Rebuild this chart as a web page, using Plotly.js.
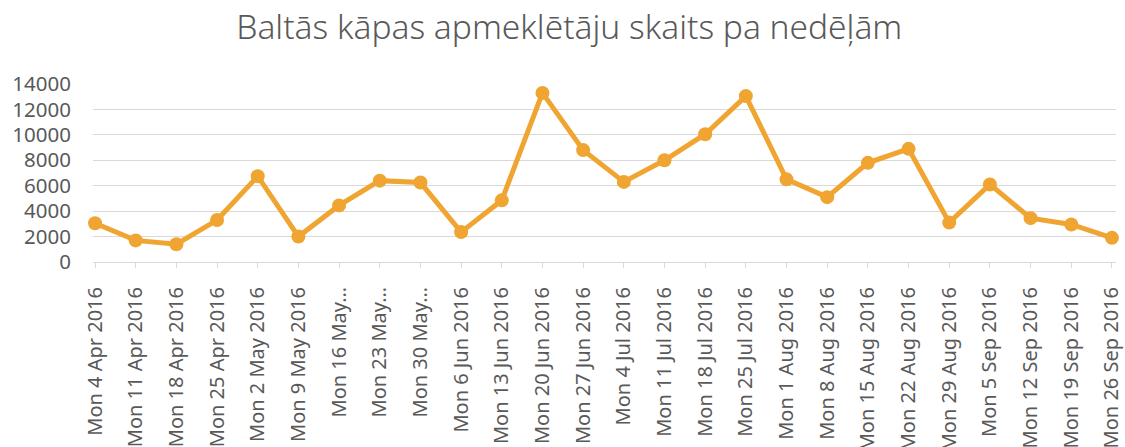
<!DOCTYPE html>
<html>
<head>
<meta charset="utf-8">
<script src="https://cdn.plot.ly/plotly-3.0.1.min.js"></script>
<style>
html,body{margin:0;padding:0;background:#fff;}
#chart{width:1125px;height:447px;}
</style>
</head>
<body>
<div id="chart"></div>
<script>
const categories = [
  "Mon 4 Apr 2016","Mon 11 Apr 2016","Mon 18 Apr 2016","Mon 25 Apr 2016",
  "Mon 2 May 2016","Mon 9 May 2016","Mon 16 May 2016","Mon 23 May 2016","Mon 30 May 2016",
  "Mon 6 Jun 2016","Mon 13 Jun 2016","Mon 20 Jun 2016","Mon 27 Jun 2016",
  "Mon 4 Jul 2016","Mon 11 Jul 2016","Mon 18 Jul 2016","Mon 25 Jul 2016",
  "Mon 1 Aug 2016","Mon 8 Aug 2016","Mon 15 Aug 2016","Mon 22 Aug 2016","Mon 29 Aug 2016",
  "Mon 5 Sep 2016","Mon 12 Sep 2016","Mon 19 Sep 2016","Mon 26 Sep 2016"
];
const tickLabels = [
  "Mon 4 Apr 2016","Mon 11 Apr 2016","Mon 18 Apr 2016","Mon 25 Apr 2016",
  "Mon 2 May 2016","Mon 9 May 2016","Mon 16 May…","Mon 23 May…","Mon 30 May…",
  "Mon 6 Jun 2016","Mon 13 Jun 2016","Mon 20 Jun 2016","Mon 27 Jun 2016",
  "Mon 4 Jul 2016","Mon 11 Jul 2016","Mon 18 Jul 2016","Mon 25 Jul 2016",
  "Mon 1 Aug 2016","Mon 8 Aug 2016","Mon 15 Aug 2016","Mon 22 Aug 2016","Mon 29 Aug 2016",
  "Mon 5 Sep 2016","Mon 12 Sep 2016","Mon 19 Sep 2016","Mon 26 Sep 2016"
];
const visitors = [
  3050, 1700, 1400, 3300,
  6750, 2000, 4450, 6400, 6250,
  2350, 4850, 13300, 8800,
  6300, 8000, 10050, 13050,
  6500, 5100, 7800, 8900, 3100,
  6100, 3450, 2950, 1900
];
const yTicks = [0, 2000, 4000, 6000, 8000, 10000, 12000, 14000];
const chartTitle = "Baltās kāpas apmeklētāju skaits pa nedēļām";

const idx = categories.map((c, i) => i);

const trace = {
  type: "scatter",
  mode: "lines+markers",
  x: idx,
  y: visitors,
  text: categories,
  line: {color: "#F0A532", width: 5},
  marker: {color: "#F0A532", size: 14},
  hoverinfo: "text+y",
  cliponaxis: false
};

const layout = {
  width: 1125, height: 447,
  paper_bgcolor: "#ffffff", plot_bgcolor: "#ffffff",
  margin: {l: 93, r: 9, t: 84, b: 185},
  showlegend: false,
  font: {family: "Noto Sans, sans-serif", color: "#595959"},
  title: {
    text: chartTitle,
    font: {family: "Noto Sans, sans-serif", size: 33.5, weight: 300, color: "#595959"},
    x: 0.506, xref: "container", xanchor: "center",
    y: 0.94, yref: "container", yanchor: "middle"
  },
  xaxis: {
    type: "linear",
    range: [-0.05, 25.1],
    tickmode: "array",
    tickvals: idx,
    ticktext: tickLabels,
    tickangle: -90,
    ticks: "outside", ticklen: 5, tickcolor: "#d9d9d9", tickwidth: 1,
    ticklabelstandoff: 11,
    ticklabeloverflow: "allow",
    tickfont: {size: 20, color: "#595959"},
    showgrid: false, zeroline: false,
    showline: true, linecolor: "#d9d9d9", linewidth: 1,
    fixedrange: true
  },
  yaxis: {
    range: [0, 14000],
    tickmode: "array",
    tickvals: yTicks,
    ticktext: yTicks.map(String),
    tickfont: {size: 20.5, color: "#595959"},
    ticks: "", ticklabelstandoff: 21,
    showgrid: true, gridcolor: "#d9d9d9", gridwidth: 1,
    zeroline: false, showline: false,
    fixedrange: true
  }
};

Plotly.newPlot("chart", [trace], layout, {displayModeBar: false, staticPlot: true});
</script>
</body>
</html>
